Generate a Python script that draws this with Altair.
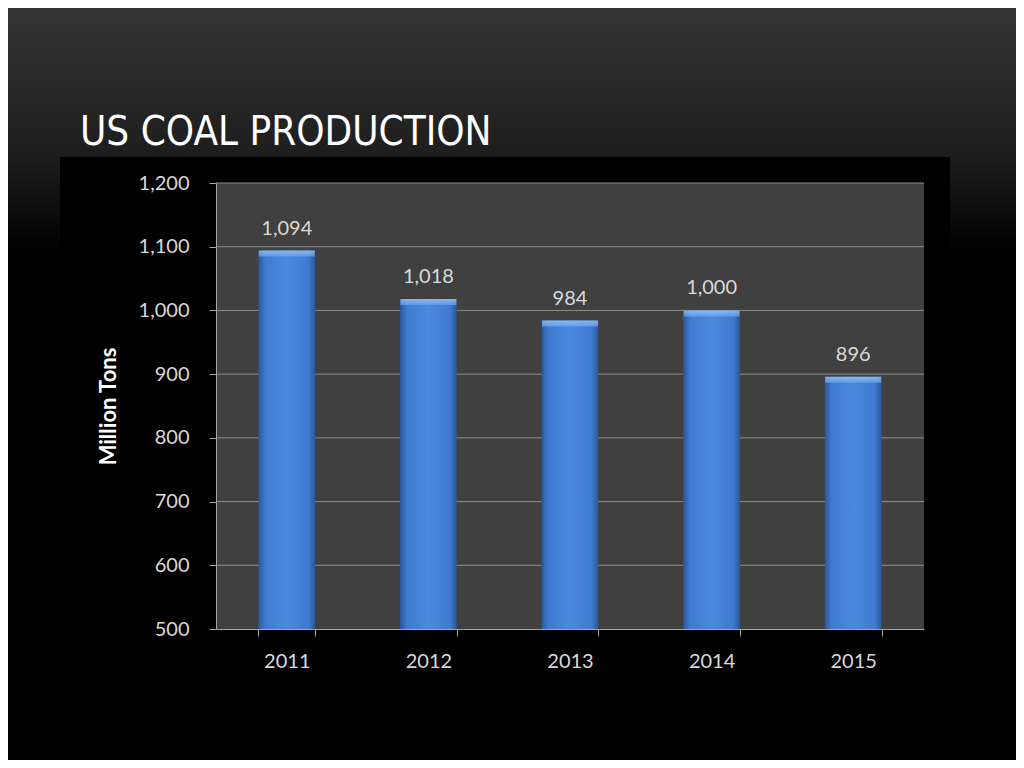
import altair as alt
import pandas as pd

years = ["2011", "2012", "2013", "2014", "2015"]
production = [1094, 1018, 984, 1000, 896]
grid_values = [600, 700, 800, 900, 1000, 1100, 1200]
y_ticks = [500, 600, 700, 800, 900, 1000, 1100, 1200]

df = pd.DataFrame({"year": years, "value": production})
grid_df = pd.DataFrame({"value": grid_values})
one = pd.DataFrame({"k": [0]})

W, H = 708, 446
PAD_L, PAD_T = 208, 175
FONT = "Lato"
LABEL_COLOR = "#d9d9d9"
LINE_COLOR = "#8c8c8c"
TICK_COLOR = "#a6a6a6"

yscale = alt.Scale(domain=[500, 1200], zero=False, nice=False)
xscale = alt.Scale(paddingInner=0.6, paddingOuter=0.3)

y_axis = alt.Axis(title="Million Tons", values=y_ticks, format=",.0f",
                  grid=False, ticks=True, tickSize=7, tickWidth=1,
                  tickColor=TICK_COLOR, domain=True, domainColor=TICK_COLOR,
                  labelFont=FONT, labelFontSize=20, labelColor=LABEL_COLOR,
                  labelPadding=20, titleFont=FONT, titleFontSize=22,
                  titleFontWeight="bold", titleColor="#ffffff",
                  titlePadding=18, zindex=1)
x_axis = alt.Axis(title=None, labelAngle=0, tickBand="extent", ticks=True,
                  tickSize=7, tickWidth=1, tickColor=TICK_COLOR, domain=True,
                  domainColor=TICK_COLOR, labelFont=FONT, labelFontSize=20,
                  labelColor=LABEL_COLOR, labelPadding=15, zindex=1)

# decorative backgrounds
bg = alt.Chart(one).mark_rect(
    color=alt.LinearGradient(
        gradient="linear",
        stops=[alt.GradientStop(color="#353535", offset=0),
               alt.GradientStop(color="#1d1d1d", offset=0.6),
               alt.GradientStop(color="#000000", offset=1)],
        x1=0, x2=0, y1=0, y2=1)
).encode(x=alt.value(-PAD_L), x2=alt.value(1008 - PAD_L),
         y=alt.value(-PAD_T), y2=alt.value(70))

panel = alt.Chart(one).mark_rect(color="#000000").encode(
    x=alt.value(60 - 216), x2=alt.value(950 - 216),
    y=alt.value(157 - 183), y2=alt.value(600))

plotbg = alt.Chart(one).mark_rect(color="#404040").encode(
    x=alt.value(0), x2=alt.value(W), y=alt.value(0), y2=alt.value(H))

title = alt.Chart(one).mark_text(
    text="US COAL PRODUCTION", align="left", baseline="alphabetic",
    font="Liberation Sans Narrow, DejaVu Sans Condensed, sans-serif",
    fontSize=40, color="#ffffff"
).encode(x=alt.value(80 - 216), y=alt.value(145 - 183))

grid = alt.Chart(grid_df).mark_rule(color=LINE_COLOR, strokeWidth=1).encode(
    y=alt.Y("value:Q", scale=yscale, axis=y_axis))

bar_grad = alt.LinearGradient(
    gradient="linear",
    stops=[alt.GradientStop(color="#2a5799", offset=0),
           alt.GradientStop(color="#3f7bd0", offset=0.12),
           alt.GradientStop(color="#4a8ade", offset=0.5),
           alt.GradientStop(color="#3f7bd0", offset=0.88),
           alt.GradientStop(color="#2a5799", offset=1)],
    x1=0, x2=1, y1=0, y2=0)

bars = alt.Chart(df).mark_bar(color=bar_grad, clip=True).encode(
    x=alt.X("year:O", scale=xscale, sort=years, axis=x_axis),
    y=alt.Y("value:Q", scale=yscale, axis=y_axis),
    y2=alt.datum(500))

bevel = alt.Chart(df).mark_tick(
    thickness=6, size=56, yOffset=3,
    color=alt.LinearGradient(
        gradient="linear",
        stops=[alt.GradientStop(color="#a9cffa", offset=0),
               alt.GradientStop(color="#6aa5ec", offset=1)],
        x1=0, x2=0, y1=0, y2=1)
).encode(x=alt.X("year:O", scale=xscale, sort=years, axis=x_axis),
         y=alt.Y("value:Q", scale=yscale, axis=y_axis))

labels = alt.Chart(df).mark_text(
    dy=-16, baseline="alphabetic", font=FONT, fontSize=20, color=LABEL_COLOR
).encode(x=alt.X("year:O", scale=xscale, sort=years, axis=x_axis),
         y=alt.Y("value:Q", scale=yscale, axis=y_axis),
         text=alt.Text("value:Q", format=","))

chart = alt.layer(bg, panel, plotbg, title, grid, bars, bevel, labels).properties(
    width=W, height=H,
    autosize=alt.AutoSizeParams(type="none"),
    padding={"left": PAD_L, "top": PAD_T, "right": 1008 - PAD_L - W,
             "bottom": 752 - PAD_T - H},
    background="#000000",
).configure_view(strokeWidth=0)

chart.save("out.html", embed_options={"renderer": "svg", "actions": False})
